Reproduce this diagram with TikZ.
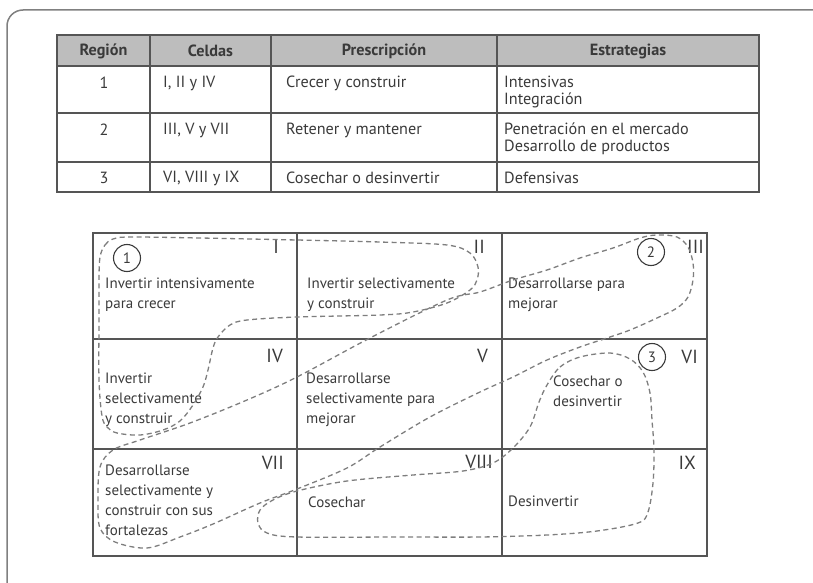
\documentclass[tikz,border=0pt]{standalone}
\usepackage{fontspec}
\setmainfont{PT Sans}
\definecolor{ink}{HTML}{3A3A3A}
\definecolor{rule}{HTML}{555555}
\definecolor{headfill}{HTML}{BDBDBD}
\definecolor{zone}{HTML}{7E7E7E}
\definecolor{frame}{HTML}{808080}
\tikzset{
  body/.style={font=\fontsize{16.2}{17}\selectfont, text=ink, inner sep=0pt},
  headtxt/.style={font=\bfseries\fontsize{16.2}{17}\selectfont, text=ink, inner sep=0pt},
  tabtxt/.style={body, anchor=west, align=left},
  celltxt/.style={font=\fontsize{15}{20}\selectfont, text=ink, inner sep=0pt, anchor=west, align=left},
  roman/.style={font=\fontsize{19}{19}\selectfont, text=ink, inner sep=0pt, anchor=east},
  badge/.style={circle, draw=ink, line width=1.1pt, minimum size=27pt, inner sep=0pt,
                font=\fontsize{15}{15}\selectfont, text=ink},
  cellbox/.style={draw=rule, line width=1.3pt, inner sep=0pt},
  zoneline/.style={draw=zone, line width=1.3pt, dash pattern=on 5pt off 3.5pt},
  tabrule/.style={draw=rule, line width=1.3pt},
}
\begin{document}
\begin{tikzpicture}[x=1pt,y=-1pt]
\useasboundingbox (0,0) rectangle (813,583);
% outer panel, running off the right and bottom edges
\begin{scope}
  \clip (0,0) rectangle (813,583);
  \draw[draw=frame, line width=1.5pt, rounded corners=16pt] (7,10) rectangle (830,598);
\end{scope}

% ---------- summary table ----------
\fill[headfill] (57,35) rectangle (759,66);
\draw[tabrule] (57,35) rectangle (759,192);
\draw[tabrule] (57,66) -- (759,66);
\draw[tabrule] (57,113) -- (759,113);
\draw[tabrule] (57,162) -- (759,162);
\foreach \cx in {150,271,497} \draw[tabrule] (\cx,35) -- (\cx,192);

\node[headtxt] (hReg) at (103.5,51) {Región};
\node[headtxt] (hCel) at (210.5,51) {Celdas};
\node[headtxt] (hPre) at (384,51) {Prescripción};
\node[headtxt] (hEst) at (628,51) {Estrategias};

\node[body] (r1a) at (104,83) {1};
\node[tabtxt] (r1b) at (163,83) {I, II y IV};
\node[tabtxt] (r1c) at (286,83) {Crecer y construir};
\node[tabtxt] (r1d) at (504,91.5) {Intensivas\\Integración};

\node[body] (r2a) at (104,130) {2};
\node[tabtxt] (r2b) at (163,130) {III, V y VII};
\node[tabtxt] (r2c) at (286,130) {Retener y mantener};
\node[tabtxt] (r2d) at (504,138.5) {Penetración en el mercado\\Desarrollo de productos};

\node[body] (r3a) at (104,178) {3};
\node[tabtxt] (r3b) at (163,178) {VI, VIII y IX};
\node[tabtxt] (r3c) at (286,178) {Cosechar o desinvertir};
\node[tabtxt] (r3d) at (504,178) {Defensivas};

% ---------- nine-cell matrix ----------
\node[cellbox, minimum width=204pt, minimum height=106pt] (c1) at (195,286) {};
\node[cellbox, minimum width=205pt, minimum height=106pt] (c2) at (399.5,286) {};
\node[cellbox, minimum width=205pt, minimum height=106pt] (c3) at (604.5,286) {};
\node[cellbox, minimum width=204pt, minimum height=110pt] (c4) at (195,394) {};
\node[cellbox, minimum width=205pt, minimum height=110pt] (c5) at (399.5,394) {};
\node[cellbox, minimum width=205pt, minimum height=110pt] (c6) at (604.5,394) {};
\node[cellbox, minimum width=204pt, minimum height=107pt] (c7) at (195,502.5) {};
\node[cellbox, minimum width=205pt, minimum height=107pt] (c8) at (399.5,502.5) {};
\node[cellbox, minimum width=205pt, minimum height=107pt] (c9) at (604.5,502.5) {};

% cell numerals
\node[roman] (n1) at (279,247) {I};
\node[roman] (n2) at (485,247) {II};
\node[roman] (n3) at (704,247) {III};
\node[roman] (n4) at (283,356) {IV};
\node[roman] (n5) at (488,356) {V};
\node[roman] (n6) at (698,357) {VI};
\node[roman] (n7) at (284,463) {VII};
\node[roman] (n8) at (493,462) {VIII};
\node[roman] (n9) at (696,463) {IX};

% region badges
\node[badge] (b1) at (127,258) {1};
\node[badge] (b2) at (651,252) {2};
\node[badge] (b3) at (652,357) {3};

% cell texts
\node[celltxt] (t1) at (105,295) {Invertir intensivamente\\para crecer};
\node[celltxt] (t2) at (307,295) {Invertir selectivamente\\y construir};
\node[celltxt] (t3) at (508,295) {Desarrollarse para\\mejorar};
\node[celltxt] (t4) at (105,400) {Invertir\\selectivamente\\y construir};
\node[celltxt] (t5) at (306,400) {Desarrollarse\\selectivamente para\\mejorar};
\node[celltxt] (t6) at (553,391) {Cosechar o\\desinvertir};
\node[celltxt] (t7) at (105,500) {Desarrollarse\\selectivamente y\\construir con sus\\fortalezas};
\node[celltxt] (t8) at (308,502) {Cosechar};
\node[celltxt] (t9) at (508,501) {Desinvertir};

% ---------- dashed region outlines ----------
% region 1: cells I, II and IV
\draw[zoneline] plot[smooth cycle, tension=0.55] coordinates {
  (100,257) (105,245) (113,239) (130,237) (200,238) (297,240) (380,242)
  (447,245) (470,253) (478,267) (477,280) (470,290) (447,303) (413,312)
  (380,315) (297,317) (247,320) (230,325) (218,337) (213,348) (208,370)
  (203,387) (193,405) (180,421) (163,430) (140,435) (117,433) (107,427)
  (102,416) (99,380) (99,320) (99,280)};
% region 2: cells III, V and VII
\draw[zoneline] plot[smooth cycle, tension=0.55] coordinates {
  (480,292) (513,280) (547,270) (580,258) (613,248) (640,238) (657,235)
  (677,237) (688,247) (693,263) (693,280) (688,297) (677,308) (657,318)
  (630,330) (607,338) (580,347) (547,360) (513,377) (480,392) (430,417)
  (380,447) (347,468) (297,489) (260,503) (213,524) (180,537) (147,548)
  (115,542) (100,528) (98,500) (100,467) (113,450) (140,440) (190,423)
  (247,400) (297,377) (370,338) (447,300)};
% region 3: cells VI, VIII and IX
\draw[zoneline] plot[smooth cycle, tension=0.55] coordinates {
  (547,385) (560,367) (580,357) (610,353) (630,359) (643,372) (650,393)
  (652,420) (654,450) (653,483) (648,512) (638,523) (597,531) (547,535)
  (480,537) (400,537) (297,537) (267,533) (258,523) (260,510) (273,500)
  (297,491) (347,481) (413,475) (463,471) (493,463) (513,448) (530,427)
  (539,402)};
\end{tikzpicture}
\end{document}
